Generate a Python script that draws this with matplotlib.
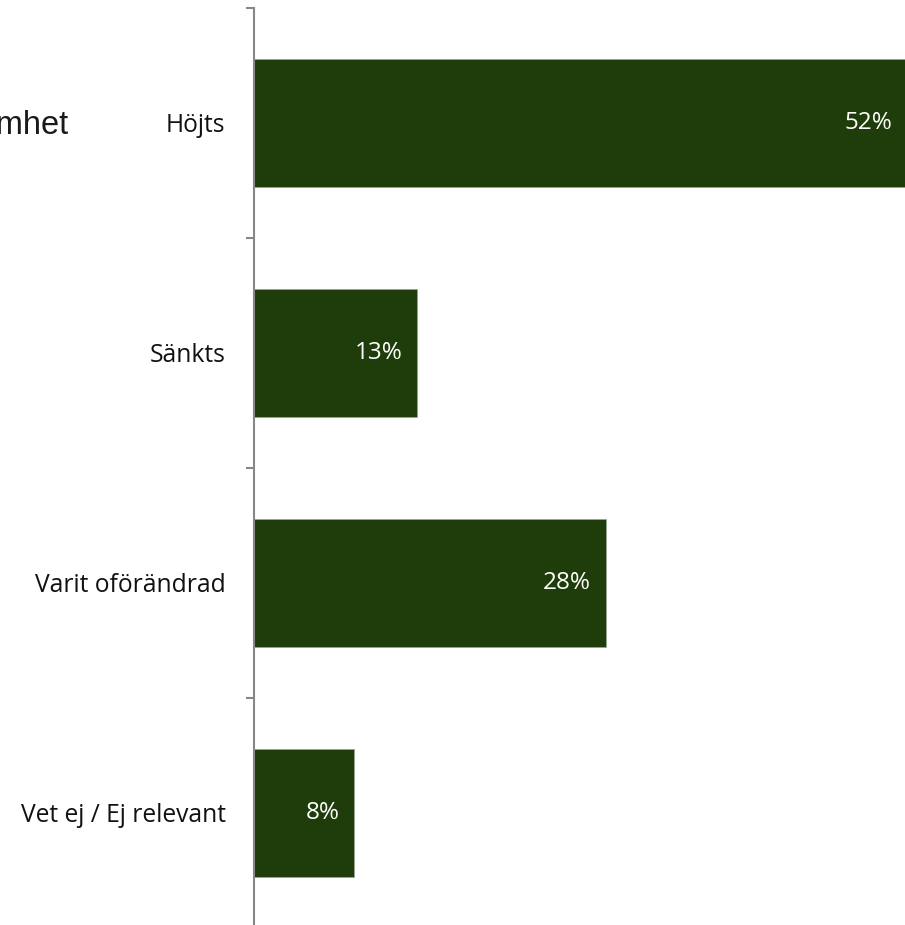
import matplotlib
matplotlib.use("Agg")
import matplotlib.pyplot as plt

# categories and shares
categories = ["Höjts", "Sänkts", "Varit oförändrad", "Vet ej / Ej relevant"]
values = [0.52, 0.13, 0.28, 0.08]
value_labels = ["52%", "13%", "28%", "8%"]
title_text = "Lönsamhet"

bar_color = "#1F3D0A"
axis_color = "#878787"

fig = plt.figure(figsize=(9.05, 9.25), dpi=100)
# axis line sits at x=254 px, category bands from y=8 px down past the bottom edge
ax = fig.add_axes([254 / 905, -3 / 925, 653 / 905, 920 / 925])

ypos = list(range(len(categories)))
ax.barh(ypos, values, height=0.556, color=bar_color, edgecolor="#9aa58f", linewidth=0.6)

ax.set_ylim(len(categories) - 0.5, -0.5)
ax.set_xlim(0, 0.52)

# tick marks between categories, labels in the middle of each band
ax.set_yticks([i - 0.5 for i in range(len(categories))])
ax.set_yticklabels([])
ax.set_yticks(ypos, minor=True)
ax.set_yticklabels(categories, minor=True, fontsize=17.7, family="Open Sans", color="#111111")
ax.tick_params(axis="y", which="major", length=6, width=1.5, color=axis_color, direction="out")
ax.tick_params(axis="y", which="minor", length=0, pad=20.5)
ax.set_xticks([])

for s in ["top", "right", "bottom"]:
    ax.spines[s].set_visible(False)
ax.spines["left"].set_color(axis_color)
ax.spines["left"].set_linewidth(1.5)

for y, v, lab in zip(ypos, values, value_labels):
    ax.annotate(lab, (v, y), xytext=(-15, 0), textcoords="offset pixels",
                ha="right", va="center", color="white", fontsize=17.5, family="Open Sans")

# chart title, cut off by the left edge of the picture
fig.text(68 / 905, 1 - 125 / 925, title_text, ha="right", va="center",
         fontsize=23.5, family="Liberation Sans", color="#1a1a1a")

fig.savefig("out.png", dpi=100)
